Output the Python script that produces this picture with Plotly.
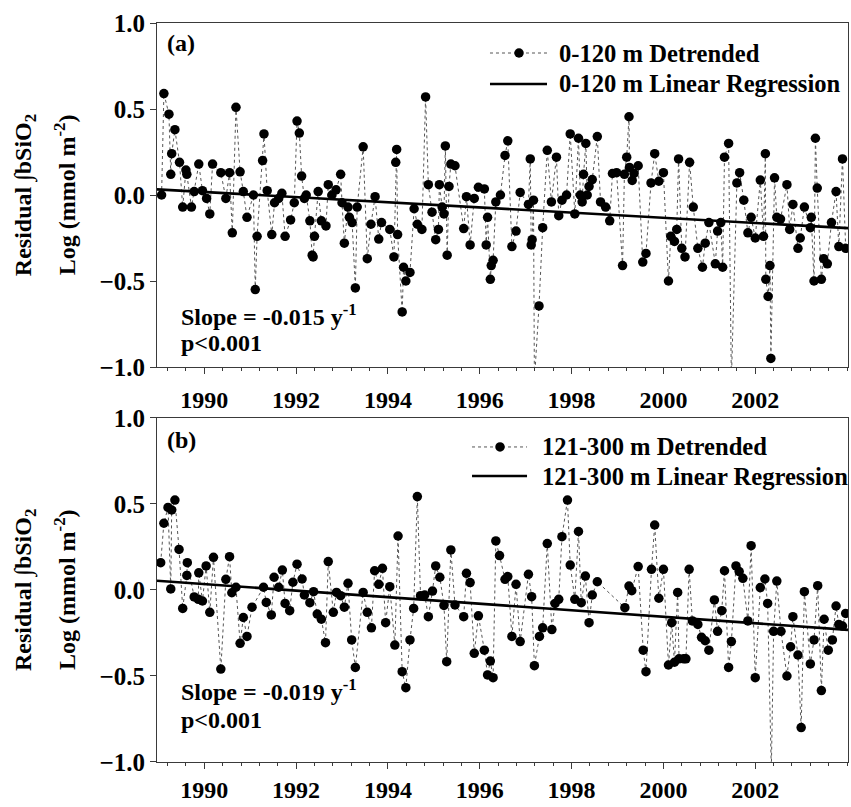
import plotly.graph_objects as go

# ---------------- data ----------------
years_a = [1989.07, 1989.12, 1989.23, 1989.27, 1989.29, 1989.36, 1989.46, 1989.53, 1989.60, 1989.62,
           1989.72, 1989.78, 1989.88, 1989.96, 1990.05, 1990.12, 1990.18, 1990.36, 1990.47, 1990.55,
           1990.61, 1990.69, 1990.78, 1990.85, 1990.93, 1991.07, 1991.11, 1991.15, 1991.27, 1991.30,
           1991.37, 1991.47, 1991.53, 1991.62, 1991.69, 1991.76, 1991.88, 1991.96, 1992.02, 1992.07,
           1992.12, 1992.18, 1992.22, 1992.30, 1992.35, 1992.37, 1992.40, 1992.48, 1992.55, 1992.65,
           1992.70, 1992.78, 1992.87, 1992.97, 1993.00, 1993.05, 1993.13, 1993.16, 1993.22, 1993.29,
           1993.33, 1993.46, 1993.55, 1993.63, 1993.72, 1993.80, 1993.86, 1994.04, 1994.13, 1994.17,
           1994.19, 1994.21, 1994.31, 1994.34, 1994.39, 1994.48, 1994.57, 1994.64, 1994.74, 1994.82,
           1994.88, 1994.96, 1995.04, 1995.10, 1995.12, 1995.18, 1995.22, 1995.25, 1995.29, 1995.33,
           1995.37, 1995.46, 1995.65, 1995.71, 1995.79, 1995.88, 1995.97, 1996.10, 1996.14, 1996.17,
           1996.23, 1996.25, 1996.29, 1996.35, 1996.45, 1996.55, 1996.61, 1996.70, 1996.79, 1996.88,
           1997.06, 1997.10, 1997.12, 1997.14, 1997.17, 1997.19, 1997.29, 1997.37, 1997.47, 1997.56,
           1997.67, 1997.72, 1997.79, 1997.89, 1997.97, 1998.07, 1998.15, 1998.19, 1998.23, 1998.26,
           1998.31, 1998.34, 1998.38, 1998.45, 1998.56, 1998.63, 1998.74, 1998.83, 1998.89, 1998.98,
           1999.11, 1999.15, 1999.20, 1999.25, 1999.26, 1999.32, 1999.36, 1999.45, 1999.55, 1999.62,
           1999.73, 1999.81, 1999.90, 2000.00, 2000.11, 2000.16, 2000.24, 2000.29, 2000.33, 2000.40,
           2000.47, 2000.57, 2000.65, 2000.75, 2000.85, 2000.91, 2000.99, 2001.13, 2001.18, 2001.25,
           2001.29, 2001.33, 2001.42, 2001.48, 2001.60, 2001.66, 2001.75, 2001.84, 2001.91, 2002.00,
           2002.11, 2002.18, 2002.22, 2002.23, 2002.28, 2002.32, 2002.34, 2002.42, 2002.47, 2002.55,
           2002.69, 2002.75, 2002.82, 2002.93, 2002.98, 2003.07, 2003.20, 2003.22, 2003.28, 2003.31,
           2003.35, 2003.44, 2003.49, 2003.57, 2003.66, 2003.76, 2003.82, 2003.90, 2003.97]
resid_a = [0.00, 0.59, 0.47, 0.12, 0.24, 0.38, 0.19, -0.07, 0.145, 0.12,
           -0.07, 0.02, 0.18, 0.025, -0.02, -0.11, 0.18, 0.13, -0.02, 0.13,
           -0.22, 0.51, 0.135, 0.02, -0.13, 0.00, -0.55, -0.24, 0.20, 0.355,
           0.025, -0.23, -0.045, -0.02, 0.01, -0.24, -0.145, -0.045, 0.43, 0.36,
           0.11, -0.02, 0.00, -0.15, -0.35, -0.36, -0.24, 0.02, -0.15, -0.18,
           0.06, 0.00, 0.03, 0.12, -0.045, -0.28, -0.07, -0.13, -0.16, -0.54,
           -0.07, 0.28, -0.37, -0.17, -0.01, -0.256, -0.16, -0.20, -0.36, 0.19,
           0.265, -0.23, -0.68, -0.42, -0.50, -0.45, -0.08, -0.17, -0.20, 0.57,
           0.06, -0.10, -0.26, -0.20, 0.06, -0.07, -0.11, 0.285, -0.35, 0.05,
           0.18, 0.17, -0.195, -0.01, -0.29, -0.02, 0.045, 0.035, -0.29, -0.13,
           -0.49, -0.41, -0.38, -0.04, 0.00, 0.23, 0.315, -0.30, -0.21, 0.015,
           -0.055, 0.21, -0.29, -0.26, -0.03, -1.08, -0.645, -0.19, 0.26, -0.04,
           0.22, -0.12, -0.03, 0.00, 0.355, -0.11, 0.33, 0.00, -0.04, 0.12,
           0.30, 0.00, 0.05, 0.09, 0.34, -0.04, -0.07, -0.15, 0.125, 0.13,
           -0.41, 0.12, 0.22, 0.455, 0.16, 0.085, 0.125, 0.17, -0.39, -0.34,
           0.07, 0.24, 0.08, 0.13, -0.50, -0.24, -0.27, -0.20, 0.21, -0.31,
           -0.36, 0.19, -0.07, -0.31, -0.42, -0.28, -0.16, -0.40, -0.21, -0.16,
           -0.42, 0.22, 0.30, -1.08, 0.07, 0.13, -0.03, -0.22, -0.13, -0.25,
           0.087, -0.24, 0.24, -0.49, -0.59, -0.41, -0.95, 0.10, -0.13, -0.14,
           0.06, -0.20, -0.055, -0.31, -0.25, -0.07, -0.19, -0.13, -0.50, 0.33,
           0.04, -0.49, -0.37, -0.40, -0.16, 0.02, -0.30, 0.21, -0.31]

years_b = [1989.05, 1989.12, 1989.21, 1989.27, 1989.29, 1989.36, 1989.45, 1989.53, 1989.62, 1989.63,
           1989.78, 1989.87, 1989.88, 1989.96, 1990.04, 1990.12, 1990.20, 1990.36, 1990.47, 1990.55,
           1990.60, 1990.69, 1990.78, 1990.85, 1990.93, 1991.04, 1991.29, 1991.35, 1991.46, 1991.52,
           1991.62, 1991.70, 1991.76, 1991.86, 1991.93, 1992.02, 1992.13, 1992.18, 1992.30, 1992.38,
           1992.46, 1992.55, 1992.64, 1992.70, 1992.81, 1992.88, 1992.97, 1993.05, 1993.13, 1993.21,
           1993.29, 1993.46, 1993.55, 1993.64, 1993.71, 1993.80, 1993.88, 1993.95, 1994.04, 1994.15,
           1994.22, 1994.31, 1994.39, 1994.48, 1994.56, 1994.64, 1994.71, 1994.80, 1994.88, 1994.97,
           1995.04, 1995.13, 1995.22, 1995.28, 1995.37, 1995.46, 1995.65, 1995.71, 1995.79, 1995.88,
           1995.97, 1996.10, 1996.17, 1996.23, 1996.29, 1996.35, 1996.43, 1996.55, 1996.61, 1996.70,
           1996.79, 1996.88, 1997.06, 1997.13, 1997.19, 1997.30, 1997.37, 1997.47, 1997.57, 1997.64,
           1997.72, 1997.79, 1997.91, 1997.97, 1998.07, 1998.15, 1998.21, 1998.30, 1998.38, 1998.45,
           1998.56, 1999.16, 1999.25, 1999.31, 1999.45, 1999.56, 1999.62, 1999.74, 1999.81, 1999.90,
           2000.00, 2000.11, 2000.18, 2000.24, 2000.31, 2000.34, 2000.44, 2000.49, 2000.56, 2000.63,
           2000.75, 2000.83, 2000.91, 2000.99, 2001.11, 2001.18, 2001.27, 2001.33, 2001.42, 2001.48,
           2001.58, 2001.65, 2001.73, 2001.84, 2001.91, 2002.00, 2002.11, 2002.21, 2002.27, 2002.35,
           2002.40, 2002.47, 2002.56, 2002.69, 2002.77, 2002.82, 2002.93, 2003.00, 2003.07, 2003.20,
           2003.28, 2003.36, 2003.44, 2003.50, 2003.59, 2003.68, 2003.76, 2003.82, 2003.90, 2003.97]
resid_b = [0.159, 0.388, 0.48, 0.006, 0.465, 0.523, 0.236, -0.107, 0.085, 0.159,
           -0.04, -0.054, 0.10, -0.064, 0.14, -0.13, 0.19, -0.46, 0.062, 0.194,
           -0.016, 0.016, -0.31, -0.16, -0.27, -0.10, 0.016, -0.072, -0.145, 0.074,
           0.016, 0.116, -0.078, -0.12, 0.045, 0.15, 0.064, -0.029, -0.074, -0.01,
           -0.14, -0.17, -0.306, 0.165, -0.13, -0.014, -0.033, -0.10, 0.039, -0.29,
           -0.45, -0.014, -0.13, -0.22, 0.112, 0.033, 0.126, -0.19, 0.019, -0.32,
           0.314, -0.475, -0.568, -0.29, -0.107, 0.543, -0.033, -0.029, -0.155, -0.006,
           0.14, 0.074, -0.09, -0.417, 0.233, -0.087, -0.155, 0.097, 0.043, -0.368,
           -0.15, -0.35, -0.494, -0.413, -0.51, 0.285, 0.20, 0.062, 0.078, -0.27,
           0.033, -0.30, 0.091, -0.039, -0.44, -0.27, -0.22, 0.27, -0.23, -0.078,
           -0.054, 0.31, 0.523, 0.145, -0.054, 0.34, -0.074, 0.081, -0.19, -0.029,
           0.048, -0.103, 0.023, -0.004, 0.136, -0.35, -0.475, 0.12, 0.378, -0.048,
           0.12, -0.436, -0.19, -0.42, -0.014, -0.40, -0.40, -0.40, 0.12, -0.18,
           -0.20, -0.275, -0.295, -0.35, -0.058, -0.24, -0.12, 0.112, -0.45, -0.30,
           0.14, 0.107, 0.068, -0.18, 0.258, -0.51, 0.014, 0.064, -0.078, -1.05,
           -0.24, 0.052, -0.24, -0.50, -0.33, -0.155, -0.378, -0.80, -0.01, -0.43,
           -0.29, 0.025, -0.585, -0.17, -0.35, -0.29, -0.093, -0.20, -0.21, -0.136]

# regression lines (value at left edge, slope per year)
reg_x = [1988.97, 2004.02]
reg_a_start, slope_a = 0.033, -0.015
reg_b_start, slope_b = 0.054, -0.019
reg_a = [reg_a_start + slope_a * (x - reg_x[0]) for x in reg_x]
reg_b = [reg_b_start + slope_b * (x - reg_x[0]) for x in reg_x]

x_range = [1988.97, 2004.02]
y_range = [-1.0, 1.0]
y_ticks = [-1.0, -0.5, 0.0, 0.5, 1.0]
x_ticks = [1990, 1992, 1994, 1996, 1998, 2000, 2002]

legend_a = ["0-120 m Detrended", "0-120 m Linear Regression"]
legend_b = ["121-300 m Detrended", "121-300 m Linear Regression"]

FONT = "Liberation Serif, Times New Roman, serif"
AX = "#3a3a3a"
DOT_COLOR = "#555555"

fig = go.Figure()

def add_panel(xs, ys, rx, ry, names, xa, ya):
    fig.add_trace(go.Scatter(
        x=xs, y=ys, mode="lines+markers", name=names[0],
        line=dict(color=DOT_COLOR, width=1, dash="dot"),
        marker=dict(color="black", size=9.5, symbol="circle"),
        xaxis=xa, yaxis=ya, showlegend=False))
    fig.add_trace(go.Scatter(
        x=rx, y=ry, mode="lines", name=names[1],
        line=dict(color="black", width=2.6),
        xaxis=xa, yaxis=ya, showlegend=False))

add_panel(years_a, resid_a, reg_x, reg_a, legend_a, "x", "y")
add_panel(years_b, resid_b, reg_x, reg_b, legend_b, "x2", "y2")

xcommon = dict(range=x_range, tickvals=x_ticks, ticks="outside", ticklen=6, tickwidth=1,
               tickcolor=AX, showline=True, linecolor=AX, linewidth=1, mirror=True,
               showgrid=False, zeroline=False,
               minor=dict(dtick=0.4, tick0=1990, ticks="outside", ticklen=3, tickcolor=AX, showgrid=False),
               tickfont=dict(family=FONT, size=24, color="black", weight="bold"))
ycommon = dict(range=y_range, tickvals=y_ticks, tickformat=".1f", ticks="outside", ticklen=6,
               tickwidth=1, tickcolor=AX, showline=True, linecolor=AX, linewidth=1, mirror=True,
               showgrid=False, zeroline=False,
               tickfont=dict(family=FONT, size=25, color="black", weight="bold"))

fig.update_layout(
    width=851, height=807,
    margin=dict(l=157, r=3, t=23, b=45),
    plot_bgcolor="white", paper_bgcolor="white",
    font=dict(family=FONT, size=24, color="black", weight="bold"),
    xaxis=dict(anchor="y", domain=[0, 1], ticklabelstandoff=5, **xcommon),
    yaxis=dict(anchor="x", domain=[0.5345, 1.0], **ycommon),
    xaxis2=dict(anchor="y2", domain=[0, 1], **xcommon),
    yaxis2=dict(anchor="x2", domain=[0, 0.4655], **ycommon),
    showlegend=False,
)

ann_font = dict(family=FONT, size=24, color="black", weight="bold")
leg_font = dict(family=FONT, size=24.6, color="black", weight="bold")

# ---- in-plot legends (line sample + label), positions in paper units ----
def add_legend(names, x0, x1, xm, y1, y2, xt):
    fig.add_shape(type="line", xref="paper", yref="paper", x0=x0, x1=x1, y0=y1, y1=y1,
                  line=dict(color=DOT_COLOR, width=1, dash="dot"))
    fig.add_shape(type="circle", xref="paper", yref="paper", xsizemode="pixel", ysizemode="pixel",
                  xanchor=xm, yanchor=y1, x0=-4.75, x1=4.75, y0=-4.75, y1=4.75,
                  fillcolor="black", line=dict(color="black", width=0))
    fig.add_shape(type="line", xref="paper", yref="paper", x0=x0, x1=x1, y0=y2, y1=y2,
                  line=dict(color="black", width=2.6))
    for name, yy in zip(names, (y1, y2)):
        fig.add_annotation(xref="paper", yref="paper", x=xt, y=yy, text=name, showarrow=False,
                           xanchor="left", yanchor="middle", font=leg_font)

add_legend(legend_a, 0.4819, 0.5644, 0.5239, 0.9594, 0.9175, 0.5790)
add_legend(legend_b, 0.4559, 0.5355, 0.4964, 0.4263, 0.3870, 0.5540)

annots = [
    dict(text="(a)", x=0.0116, y=0.973, xanchor="left", yanchor="middle"),
    dict(text="(b)", x=0.0116, y=0.4357, xanchor="left", yanchor="middle"),
    dict(text="Slope = -0.015 y<sup>-1</sup>", x=0.0318, y=0.6049, xanchor="left", yanchor="middle"),
    dict(text="p<0.001", x=0.0318, y=0.567, xanchor="left", yanchor="middle"),
    dict(text="Slope = -0.019 y<sup>-1</sup>", x=0.0318, y=0.0974, xanchor="left", yanchor="middle"),
    dict(text="p<0.001", x=0.0318, y=0.0568, xanchor="left", yanchor="middle"),
]
for a in annots:
    fig.add_annotation(xref="paper", yref="paper", showarrow=False, font=ann_font, **a)

for yc in (0.767, 0.2327):
    fig.add_annotation(xref="paper", yref="paper", x=0, y=yc, xshift=-132, textangle=-90,
                       text="Residual \u222bbSiO<sub>2</sub>", showarrow=False, font=ann_font,
                       xanchor="center", yanchor="middle")
    fig.add_annotation(xref="paper", yref="paper", x=0, y=yc, xshift=-92, textangle=-90,
                       text="Log (mmol m<sup>-2</sup>)", showarrow=False, font=ann_font,
                       xanchor="center", yanchor="middle")

fig.write_html("out.html")
